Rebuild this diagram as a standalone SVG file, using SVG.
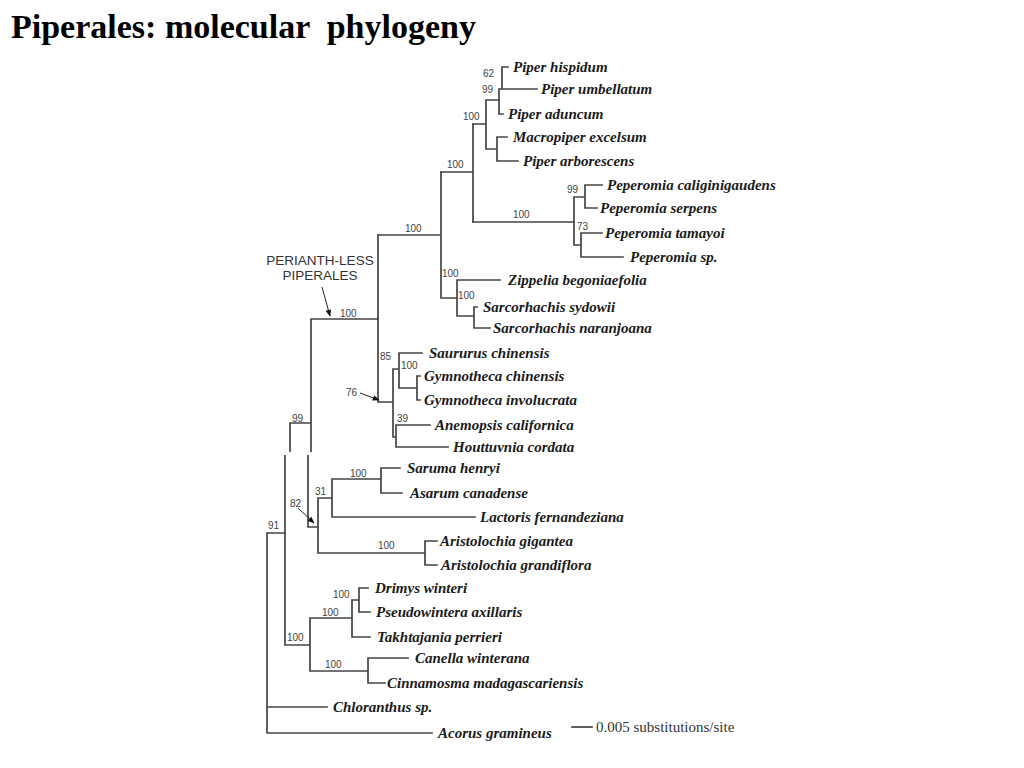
<svg xmlns="http://www.w3.org/2000/svg" width="1024" height="768" viewBox="0 0 1024 768">
<style>
.title{font-family:"Liberation Serif","Times New Roman",serif;font-weight:bold;font-size:34px;fill:#000;white-space:pre}
.leaf{font-family:"Liberation Serif","Times New Roman",serif;font-weight:bold;font-style:italic;font-size:15px;fill:#1a1a1a}
.bs{font-family:"Liberation Sans",Arial,sans-serif;font-size:10px;fill:#444}
.note{font-family:"Liberation Sans",Arial,sans-serif;font-size:13.5px;fill:#333;text-anchor:middle}
.scale{font-family:"Liberation Serif","Times New Roman",serif;font-size:15px;fill:#333}
.br{fill:none;stroke:#444;stroke-width:1.7;stroke-linecap:square}
.ar{fill:none;stroke:#222;stroke-width:1}
</style>
<defs>
<marker id="ah" viewBox="0 0 10 10" refX="9" refY="5" markerWidth="7" markerHeight="7" orient="auto" markerUnits="userSpaceOnUse">
<path d="M0,1 L10,5 L0,9 z" fill="#111"/>
</marker>
</defs>
<rect width="1024" height="768" fill="#fff"/>
<text class="title" x="11" y="38">Piperales: molecular  phylogeny</text>

<g id="connectors" class="br">
<path d="M502,67 H508 M502,67 V89 M499,89 H537 M499,89 V114 H503"/>
<path d="M486,100 H499 M497,137 H507 M497,137 V161 H518 M486,149 H497 M486,100 V149 M473,124 H486"/>
<path d="M585,185 H602 M585,185 V208 H597 M574,197 H585 M581,233 H602 M581,233 V257 H623 M574,245 H581 M574,197 V245 M473,222 H574"/>
<path d="M473,124 V222 M441,172 H473"/>
<path d="M457,280 H500 M474,307 H477 M474,307 V328 H490 M457,316 H474 M457,280 V316 M441,298 H457 M441,172 V298 M378,235 H441"/>
<path d="M399,353 H422 M417,376 H420 M417,376 V400 H420 M399,388 H417 M399,353 V388 M393,369 H399 M396,425 H430 M396,425 V447 H448 M393,437 H396 M393,369 V437 M378,402 H393 M378,235 V402"/>
<path d="M311,319 H378 M311,319 V453 M290,423 H311 M290,423 V453"/>
<path d="M308,455 V527 H318 M381,468 H400 M381,468 V493 H402 M332,479 H381 M332,479 V517 H475 M318,498 H332 M425,541 H437 M425,541 V565 H437 M318,553 H425 M318,498 V553"/>
<path d="M285,455 V645 M359,588 H368 M359,588 V612 H370 M352,600 H359 M352,600 V637 H370 M310,618 H352 M368,658 H408 M368,658 V683 H385 M310,671 H368 M310,618 V671 M285,645 H310"/>
<path d="M267,533 H285 M267,533 V733 H432 M267,707 H327"/>
<path d="M572,727 H592"/>
</g>

<g id="arrows">
<line class="ar" x1="322" y1="287" x2="330" y2="316" marker-end="url(#ah)"/>
<line class="ar" x1="360" y1="393" x2="379" y2="400" marker-end="url(#ah)"/>
<line class="ar" x1="298" y1="508" x2="314" y2="523" marker-end="url(#ah)"/>
</g>

<g id="leaves" class="leaf">
<text id="n-piper-hispidum" x="513" y="72">Piper hispidum</text>
<text id="n-piper-umbellatum" x="541" y="94">Piper umbellatum</text>
<text id="n-piper-aduncum" x="508" y="119">Piper aduncum</text>
<text id="n-macropiper" x="513" y="142">Macropiper excelsum</text>
<text id="n-piper-arborescens" x="523" y="166">Piper arborescens</text>
<text id="n-pep-cal" x="607" y="190">Peperomia caliginigaudens</text>
<text id="n-pep-serp" x="600" y="213">Peperomia serpens</text>
<text id="n-pep-tam" x="605" y="238">Peperomia tamayoi</text>
<text id="n-pep-sp" x="630" y="262">Peperomia sp.</text>
<text id="n-zippelia" x="508" y="285">Zippelia begoniaefolia</text>
<text id="n-sarc-syd" x="483" y="312">Sarcorhachis sydowii</text>
<text id="n-sarc-nar" x="493" y="333">Sarcorhachis naranjoana</text>
<text id="n-saururus" x="429" y="358">Saururus chinensis</text>
<text id="n-gym-chin" x="424" y="381">Gymnotheca chinensis</text>
<text id="n-gym-inv" x="424" y="405">Gymnotheca involucrata</text>
<text id="n-anemopsis" x="435" y="430">Anemopsis californica</text>
<text id="n-houttuynia" x="453" y="452">Houttuynia cordata</text>
<text id="n-saruma" x="407" y="473">Saruma henryi</text>
<text id="n-asarum" x="410" y="498">Asarum canadense</text>
<text id="n-lactoris" x="480" y="522">Lactoris fernandeziana</text>
<text id="n-ari-gig" x="440" y="546">Aristolochia gigantea</text>
<text id="n-ari-gra" x="441" y="570">Aristolochia grandiflora</text>
<text id="n-drimys" x="375" y="593">Drimys winteri</text>
<text id="n-pseudowintera" x="376" y="617">Pseudowintera axillaris</text>
<text id="n-takhtajania" x="377" y="642">Takhtajania perrieri</text>
<text id="n-canella" x="415" y="663">Canella winterana</text>
<text id="n-cinnamosma" x="387" y="688">Cinnamosma madagascariensis</text>
<text id="n-chloranthus" x="333" y="712">Chloranthus sp.</text>
<text id="n-acorus" x="438" y="738">Acorus gramineus</text>
</g>

<g id="support" class="bs">
<text x="483" y="77">62</text>
<text x="482" y="93">99</text>
<text x="463" y="120">100</text>
<text x="447" y="168">100</text>
<text x="567" y="193">99</text>
<text x="513" y="218">100</text>
<text x="577" y="230">73</text>
<text x="405" y="232">100</text>
<text x="442" y="277">100</text>
<text x="458" y="299">100</text>
<text x="340" y="317">100</text>
<text x="380" y="360">85</text>
<text x="401" y="369">100</text>
<text x="346" y="396">76</text>
<text x="397" y="422">39</text>
<text x="292" y="422">99</text>
<text x="350" y="477">100</text>
<text x="315" y="495">31</text>
<text x="290" y="507">82</text>
<text x="268" y="529">91</text>
<text x="378" y="549">100</text>
<text x="333" y="598">100</text>
<text x="322" y="616">100</text>
<text x="287" y="641">100</text>
<text x="325" y="668">100</text>
</g>

<g id="clade-label">
<text class="note" x="320" y="265">PERIANTH-LESS</text>
<text class="note" x="320" y="280">PIPERALES</text>
</g>

<rect x="255" y="452" width="450" height="3" fill="#fff"/>

<g id="scale-bar">
<text class="scale" x="596" y="732">0.005 substitutions/site</text>
</g>
</svg>
